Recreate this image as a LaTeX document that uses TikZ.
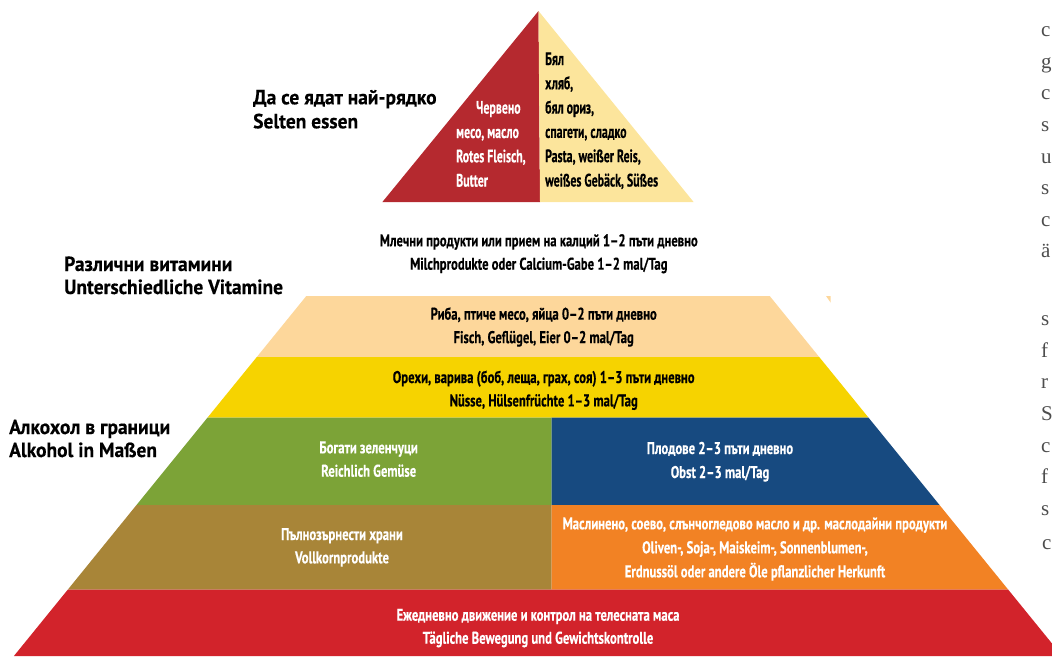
\documentclass[tikz,border=0pt]{standalone}
\usepackage{fontspec}
\setmainfont{PT Sans}
\newfontfamily\bandfont{PT Sans}[FakeStretch=0.745, FakeBold=0.3]
\newfontfamily\tipfont{PT Sans}[FakeStretch=0.66, FakeBold=0.3]
\newfontfamily\sidefont{PT Sans}[FakeStretch=0.95, FakeBold=0.3]
\newfontfamily\pagefont{Liberation Serif}
\usetikzlibrary{calc}

\definecolor{topred}{HTML}{B5292F}
\definecolor{topcream}{HTML}{FCE59C}
\definecolor{fishpeach}{HTML}{FDD79B}
\definecolor{nutyellow}{HTML}{F6D300}
\definecolor{veggreen}{HTML}{7CA337}
\definecolor{fruitblue}{HTML}{174A80}
\definecolor{grainbrown}{HTML}{A88538}
\definecolor{oilorange}{HTML}{F28224}
\definecolor{basered}{HTML}{D2232B}
\definecolor{pagegray}{HTML}{4D4D4D}

\begin{document}
\begin{tikzpicture}[x=1pt, y=-1pt]
    \tikzstyle{dark text} = [font=\bandfont\bfseries\fontsize{17}{20}\selectfont,
        text=black, inner sep=0pt, anchor=base]
    \tikzstyle{light text} = [dark text, text=white]
    \tikzstyle{tip text} = [font=\tipfont\bfseries\fontsize{18}{21}\selectfont,
        inner sep=0pt, anchor=base west]
    \tikzstyle{side text} = [font=\sidefont\bfseries\fontsize{20.5}{24}\selectfont,
        inner sep=0pt, anchor=base west]
    \tikzstyle{page letter} = [font=\pagefont\fontsize{21}{25}\selectfont,
        text=pagegray, inner sep=0pt, anchor=base west]

    \useasboundingbox (0, 0) rectangle (1052, 656);

    % Tip of the pyramid ---------------------------------
    \fill[topred] (538.5, 11) -- (382.4, 202) -- (540, 202) -- cycle;
    \fill[topcream] (538.5, 11) -- (540, 202) -- (693.6, 202) -- cycle;

    % Bands ----------------------------------------------
    \fill[fishpeach] (306.3, 296) -- (769.7, 296) -- (819.2, 357) -- (256.8, 357) -- cycle;
    \fill[fishpeach] (826, 296) -- (830.7, 296) -- (830.7, 302.7) -- cycle;
    \fill[nutyellow] (256.8, 357) -- (819.2, 357) -- (868.4, 417.5) -- (207.6, 417.5) -- cycle;
    \fill[veggreen] (207.6, 417.5) -- (551.5, 417.5) -- (551.5, 505) -- (136.5, 505) -- cycle;
    \fill[fruitblue] (551.5, 417.5) -- (868.4, 417.5) -- (939.5, 505) -- (551.5, 505) -- cycle;
    \fill[grainbrown] (136.5, 505) -- (551.5, 505) -- (551.5, 589.5) -- (67.9, 589.5) -- cycle;
    \fill[oilorange] (551.5, 505) -- (939.5, 505) -- (1008.1, 589.5) -- (551.5, 589.5) -- cycle;
    \fill[basered] (67.9, 589.5) -- (1008.1, 589.5) -- (1052, 643.5) -- (1052, 656) -- (13.9, 656) -- cycle;
    % ---------------------------------------------------

    % Tip texts
    \node (meat_1) at (476, 113.6) [tip text, text=white] {Червено};
    \node (meat_2) at (456, 138) [tip text, text=white] {месо, масло};
    \node (meat_3) at ($(meat_2.base west) + (0, 24.3)$) [tip text, text=white] {Rotes Fleisch,};
    \node (meat_4) at ($(meat_3.base west) + (0, 24.3)$) [tip text, text=white] {Butter};

    \node (white_1) at (545, 65) [tip text] {Бял};
    \node (white_2) at ($(white_1.base west) + (0, 24.3)$) [tip text] {хляб,};
    \node (white_3) at ($(white_2.base west) + (0, 24.3)$) [tip text] {бял ориз,};
    \node (white_4) at ($(white_3.base west) + (0, 24.3)$) [tip text] {спагети, сладко};
    \node (white_5) at ($(white_4.base west) + (0, 24.3)$) [tip text] {Pasta, weißer Reis,};
    \node (white_6) at ($(white_5.base west) + (0, 24.3)$) [tip text] {weißes Gebäck, Süßes};

    % Side labels
    \node (rare_bg) at (253, 104.3) [side text] {Да се ядат най-рядко};
    \node (rare_de) at ($(rare_bg.base west) + (0, 24)$) [side text] {Selten essen};
    \node (vit_bg) at (64, 271) [side text] {Различни витамини};
    \node (vit_de) at ($(vit_bg.base west) + (0, 23)$) [side text] {Unterschiedliche Vitamine};
    \node (alc_bg) at (9, 434) [side text] {Алкохол в граници};
    \node (alc_de) at ($(alc_bg.base west) + (0, 23)$) [side text] {Alkohol in Maßen};

    % Band texts -----------------------------------------
    \node (dairy_bg) at (538.8, 246.3) [dark text] {Млечни продукти или прием на калций 1–2 пъти дневно};
    \node (dairy_de) at ($(dairy_bg.base) + (0, 23.4)$) [dark text] {Milchprodukte oder Calcium-Gabe 1–2 mal/Tag};

    \node (fish_bg) at (543.7, 319.7) [dark text] {Риба, птиче месо, яйца 0–2 пъти дневно};
    \node (fish_de) at ($(fish_bg.base) + (0, 23.4)$) [dark text] {Fisch, Geflügel, Eier 0–2 mal/Tag};

    \node (nut_bg) at (543.7, 383) [dark text] {Орехи, варива (боб, леща, грах, соя) 1–3 пъти дневно};
    \node (nut_de) at ($(nut_bg.base) + (0, 23.4)$) [dark text] {Nüsse, Hülsenfrüchte 1–3 mal/Tag};

    \node (veg_bg) at (368.7, 453.3) [light text] {Богати зеленчуци};
    \node (veg_de) at ($(veg_bg.base) + (0, 23.4)$) [light text] {Reichlich Gemüse};

    \node (fruit_bg) at (720, 454) [light text] {Плодове 2–3 пъти дневно};
    \node (fruit_de) at ($(fruit_bg.base) + (0, 24)$) [light text] {Obst 2–3 mal/Tag};

    \node (grain_bg) at (342, 540) [light text] {Пълнозърнести храни};
    \node (grain_de) at ($(grain_bg.base) + (0, 23.3)$) [light text] {Vollkornprodukte};

    \node (oil_1) at (755, 529.3) [light text] {Маслинено, соево, слънчогледово масло и др. маслодайни продукти};
    \node (oil_2) at ($(oil_1.base) + (0, 24)$) [light text] {Oliven-, Soja-, Maiskeim-, Sonnenblumen-,};
    \node (oil_3) at ($(oil_2.base) + (0, 24)$) [light text] {Erdnussöl oder andere Öle pflanzlicher Herkunft};

    \node (move_bg) at (538, 620.7) [light text] {Ежедневно движение и контрол на телесната маса};
    \node (move_de) at ($(move_bg.base) + (0, 23)$) [light text] {Tägliche Bewegung und Gewichtskontrolle};
    % ---------------------------------------------------

    % Next column of the page
    \foreach \letter [count=\i] in {c, g, c, s, u, s, c, ä}
        \node (col_a\i) at (1041, 5 + \i * 31.6) [page letter] {\letter};
    \foreach \letter [count=\i] in {s, f, r, S, c, f, s}
        \node (col_b\i) at (1041, 294 + \i * 31.6) [page letter] {\letter};
    \node (col_end) at (1042, 549) [page letter] {c};
\end{tikzpicture}
\end{document}
